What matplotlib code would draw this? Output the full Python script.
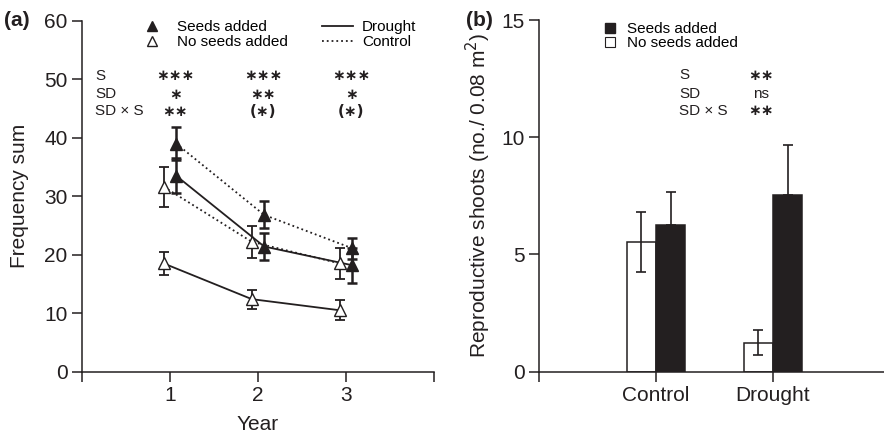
import matplotlib
matplotlib.use("Agg")
import matplotlib.pyplot as plt
from matplotlib.lines import Line2D
import numpy as np

plt.rcParams["font.family"] = ["Liberation Sans", "DejaVu Sans"]
INK = "#231f20"

# ---------------------------------------------------------------------------
# data
# ---------------------------------------------------------------------------
years = [1, 2, 3]

# panel (a): frequency sum, mean and error
seed_drought = [33.5, 21.4, 18.2]
seed_drought_err = [3.0, 2.3, 3.0]
seed_control = [39.0, 26.8, 21.1]
seed_control_err = [2.8, 2.3, 1.8]
noseed_drought = [18.5, 12.4, 10.5]
noseed_drought_err = [2.0, 1.6, 1.7]
noseed_control = [31.6, 22.2, 18.5]
noseed_control_err = [3.4, 2.7, 2.6]

stat_rows = ["S", "SD", "SD × S"]
stats_a = [["∗∗∗", "∗∗∗", "∗∗∗"],
           ["∗", "∗∗", "∗"],
           ["∗∗", "(∗)", "(∗)"]]

# panel (b): reproductive shoots
treatments = ["Control", "Drought"]
shoots_seeds = [6.26, 7.52]
shoots_seeds_err = [1.4, 2.15]
shoots_noseeds = [5.52, 1.24]
shoots_noseeds_err = [1.27, 0.54]
stats_b = ["∗∗", "ns", "∗∗"]

# ---------------------------------------------------------------------------
fig = plt.figure(figsize=(8.84, 4.37), dpi=100)
W, H = 884, 437


def px_axes(x0, y0, x1, y1):
    return fig.add_axes([x0 / W, 1 - y1 / H, (x1 - x0) / W, (y1 - y0) / H])


def style_axes(ax):
    for s in ("top", "right"):
        ax.spines[s].set_visible(False)
    for s in ("left", "bottom"):
        ax.spines[s].set_linewidth(1.1)
        ax.spines[s].set_color(INK)
    ax.tick_params(direction="out", length=7.5, width=1.1, color=INK,
                   labelsize=15, labelcolor=INK, pad=3)


def star_text(ax, x, y, s):
    # stars drawn with the centred asterisk operator
    if "∗" in s:
        ax.text(x, y, s, fontsize=11, family=["DejaVu Sans"], fontweight="bold",
                color=INK, ha="center", va="center")
    else:
        ax.text(x, y, s, fontsize=11, color=INK, ha="center", va="center")


# ---------------- panel (a) ----------------
ax = px_axes(82, 20.7, 434, 371.7)
style_axes(ax)
ax.set_xlim(0, 4)
ax.set_ylim(0, 60)
ax.set_xticks([0, 1, 2, 3, 4])
ax.set_xticklabels(["", "1", "2", "3", ""])
ax.set_yticks(range(0, 61, 10))
ax.set_xlabel("Year", fontsize=15, color=INK, labelpad=7)
ax.set_ylabel("Frequency sum", fontsize=15, color=INK, labelpad=11)

yr = np.array(years, dtype=float)
series = [
    (noseed_control, noseed_control_err, -0.07, ":", "white"),
    (noseed_drought, noseed_drought_err, -0.07, "-", "white"),
    (seed_control, seed_control_err, 0.07, ":", INK),
    (seed_drought, seed_drought_err, 0.07, "-", INK),
]
for vals, err, off, ls, fc in series:
    ax.plot(yr + off, vals, ls=ls, color=INK, lw=1.3, zorder=2)
    ax.errorbar(yr + off, vals, yerr=err, fmt="none", ecolor=INK,
                elinewidth=1.8 if fc == INK else 1.3, capsize=3.5,
                capthick=1.8 if fc == INK else 1.3, zorder=3)
    ax.plot(yr + off, vals, ls="none", marker="^", ms=9, mfc=fc,
            mec=INK, mew=1.0, zorder=4)

# legend (a)
h1 = [Line2D([], [], ls="none", marker="^", ms=7.5, mfc=INK, mec=INK),
      Line2D([], [], ls="none", marker="^", ms=7.5, mfc="white", mec=INK)]
leg1 = ax.legend(h1, ["Seeds added", "No seeds added"], loc="upper left",
                 bbox_to_anchor=(0.16, 1.018), frameon=False, fontsize=11,
                 handlelength=1.0, handletextpad=1.1, labelspacing=0.05,
                 borderaxespad=0)
ax.add_artist(leg1)
h2 = [Line2D([], [], ls="-", color=INK, lw=1.3),
      Line2D([], [], ls=":", color=INK, lw=1.3)]
ax.legend(h2, ["Drought", "Control"], loc="upper left",
          bbox_to_anchor=(0.665, 1.018), frameon=False, fontsize=11,
          handlelength=2.0, handletextpad=0.6, labelspacing=0.05,
          borderaxespad=0)

row_y = [50.6, 47.4, 44.5]
for r, lab in enumerate(stat_rows):
    ax.text(0.15, row_y[r], lab, fontsize=11, color=INK, ha="left", va="center")
    for c, yv in enumerate(years):
        star_text(ax, yv + 0.06, row_y[r], stats_a[r][c])

fig.text(4 / W, 1 - 20 / H, "(a)", fontsize=15, fontweight="bold",
         color=INK, ha="left", va="center")

# ---------------- panel (b) ----------------
bx = px_axes(539, 20, 884, 371.7)
style_axes(bx)
bx.set_xlim(0, 2.95)
bx.set_ylim(0, 15)
pos = np.arange(1, len(treatments) + 1)
bx.set_xticks([0] + list(pos))
bx.set_xticklabels([""] + treatments)
bx.set_yticks([0, 5, 10, 15])
bx.set_ylabel("Reproductive shoots (no./ 0.08 m$^2$)", fontsize=15,
              color=INK, labelpad=6)

bw = 0.25
bx.bar(pos - bw / 2, shoots_noseeds, width=bw, color="white",
       edgecolor=INK, linewidth=1.1, zorder=2)
bx.errorbar(pos - bw / 2, shoots_noseeds, yerr=shoots_noseeds_err, fmt="none",
            ecolor=INK, elinewidth=1.2, capsize=3.5, capthick=1.2, zorder=3)
bx.errorbar(pos + bw / 2, shoots_seeds,
            yerr=[np.zeros(len(shoots_seeds)), shoots_seeds_err], fmt="none",
            ecolor=INK, elinewidth=1.2, capsize=3.5, capthick=1.2, zorder=1)
bx.bar(pos + bw / 2, shoots_seeds, width=bw, color=INK,
       edgecolor=INK, linewidth=1.1, zorder=2)

h3 = [Line2D([], [], ls="none", marker="s", ms=6.5, mfc=INK, mec=INK),
      Line2D([], [], ls="none", marker="s", ms=6.5, mfc="white", mec=INK, mew=0.8)]
bx.legend(h3, ["Seeds added", "No seeds added"], loc="upper left",
          bbox_to_anchor=(0.17, 1.012), frameon=False, fontsize=11,
          handlelength=0.8, handletextpad=0.7, labelspacing=0.0,
          borderaxespad=0)

row_yb = [12.65, 11.84, 11.12]
for r, lab in enumerate(stat_rows):
    bx.text(1.2, row_yb[r], lab, fontsize=11, color=INK, ha="left", va="center")
    star_text(bx, 1.9, row_yb[r], stats_b[r])

fig.text(466 / W, 1 - 20 / H, "(b)", fontsize=15, fontweight="bold",
         color=INK, ha="left", va="center")

fig.savefig("out.png", dpi=100)
